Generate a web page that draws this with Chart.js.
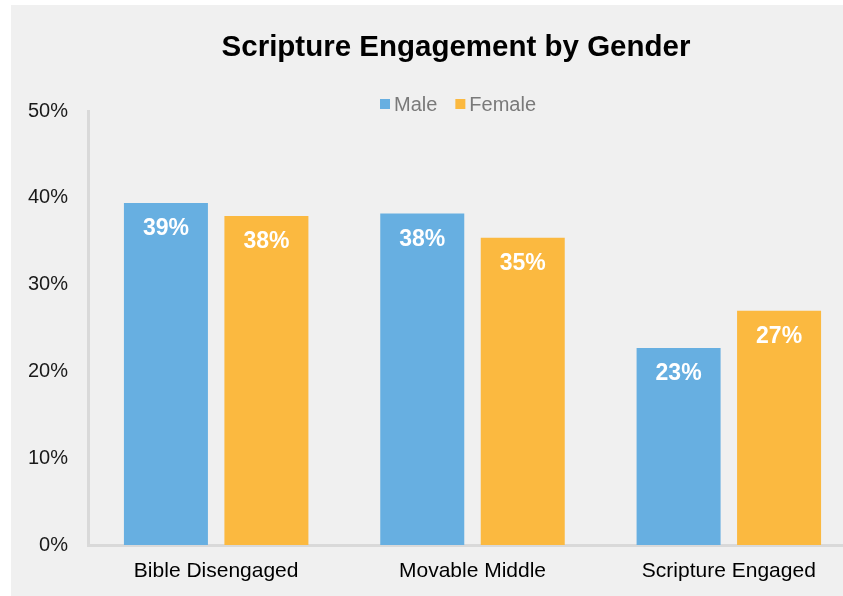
<!DOCTYPE html>
<html>
<head>
<meta charset="utf-8">
<title>Scripture Engagement by Gender</title>
<script src="https://cdn.jsdelivr.net/npm/chart.js@4.4.1/dist/chart.umd.min.js"></script>
<style>
  html, body { margin: 0; padding: 0; background: #ffffff; overflow: hidden; }
  #chart { display: block; }
</style>
</head>
<body>
<canvas id="chart" width="860" height="596"></canvas>
<script>
const categories = ["Bible Disengaged", "Movable Middle", "Scripture Engaged"];
const maleValues = [39.4, 38.2, 22.7];
const femaleValues = [37.9, 35.4, 27.0];
const yTicks = [0, 10, 20, 30, 40, 50];

const BLUE = "#67afe1";
const ORANGE = "#fbb940";
const FONT = "'Liberation Sans', Arial, Helvetica, sans-serif";

// grey panel behind everything, title and the little legend above the plot
const frame = {
  id: "frame",
  beforeDraw(chart) {
    const ctx = chart.ctx;
    ctx.save();
    ctx.fillStyle = "#ffffff";
    ctx.fillRect(0, 0, chart.width, chart.height);
    ctx.fillStyle = "#f0f0f0";
    ctx.fillRect(11, 5, chart.width - 11, chart.height - 5);
    ctx.restore();
  },
  afterDraw(chart) {
    const ctx = chart.ctx;
    ctx.save();
    ctx.fillStyle = "#000000";
    ctx.font = "bold 29.5px " + FONT;
    ctx.textAlign = "center";
    ctx.textBaseline = "middle";
    ctx.fillText("Scripture Engagement by Gender", 456, 48);

    ctx.font = "20px " + FONT;
    ctx.textAlign = "left";
    let x = 380;
    const y = 104;
    chart.data.datasets.forEach(ds => {
      ctx.fillStyle = ds.backgroundColor;
      ctx.fillRect(x, y - 5, 10, 10);
      x += 14;
      ctx.fillStyle = "#7a7a7a";
      ctx.fillText(ds.label, x, y + 1);
      x += ctx.measureText(ds.label).width + 18;
    });
    ctx.restore();
  }
};

// value labels just inside the top of each bar
const barLabels = {
  id: "barLabels",
  afterDatasetsDraw(chart) {
    const ctx = chart.ctx;
    ctx.save();
    ctx.font = "bold 23px " + FONT;
    ctx.fillStyle = "#ffffff";
    ctx.textAlign = "center";
    ctx.textBaseline = "middle";
    chart.data.datasets.forEach((ds, i) => {
      chart.getDatasetMeta(i).data.forEach((bar, j) => {
        ctx.fillText(Math.round(ds.data[j]) + "%", bar.x, bar.y + 26);
      });
    });
    ctx.restore();
  }
};

new Chart(document.getElementById("chart"), {
  type: "bar",
  plugins: [frame, barLabels],
  data: {
    labels: categories,
    datasets: [
      { label: "Male", data: maleValues, backgroundColor: BLUE },
      { label: "Female", data: femaleValues, backgroundColor: ORANGE }
    ]
  },
  options: {
    responsive: false,
    animation: false,
    layout: { padding: { top: 111, right: 3, left: 0, bottom: 0 } },
    datasets: {
      bar: { categoryPercentage: 0.784, barPercentage: 0.836 }
    },
    plugins: {
      legend: { display: false },
      title: { display: false },
      tooltip: { enabled: false }
    },
    scales: {
      x: {
        grid: { display: false, drawTicks: false },
        border: { display: true, color: "#d9d9d9", width: 3 },
        ticks: { color: "#000000", font: { family: FONT, size: 21 }, padding: 14, maxRotation: 0 },
        afterFit(scale) { scale.height = 51; }
      },
      y: {
        min: 0,
        max: 50,
        grid: { display: false, drawTicks: false },
        border: { display: true, color: "#d9d9d9", width: 3 },
        afterBuildTicks(scale) { scale.ticks = yTicks.map(v => ({ value: v })); },
        ticks: {
          color: "#1a1a1a",
          font: { family: FONT, size: 20 },
          padding: 20,
          callback: v => v + "%"
        },
        afterFit(scale) { scale.width = 88; }
      }
    }
  }
});
</script>
</body>
</html>
